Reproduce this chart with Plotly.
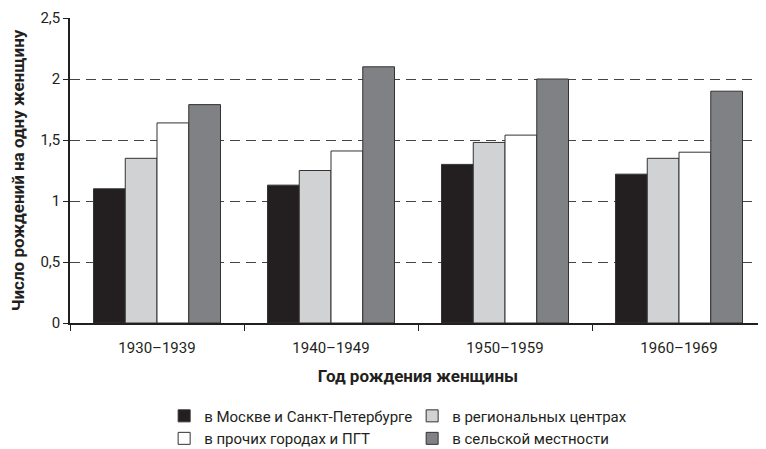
import plotly.graph_objects as go


COHORTS = ["1930–1939", "1940–1949", "1950–1959", "1960–1969"]

MOSCOW_SPB = [1.10, 1.13, 1.30, 1.22]
REGIONAL_CENTERS = [1.35, 1.25, 1.48, 1.35]
OTHER_TOWNS = [1.64, 1.41, 1.54, 1.40]
RURAL = [1.79, 2.10, 2.00, 1.90]

SERIES = [
    ("в Москве и Санкт-Петербурге", MOSCOW_SPB, "#231f20"),
    ("в региональных центрах", REGIONAL_CENTERS, "#d1d2d4"),
    ("в прочих городах и ПГТ", OTHER_TOWNS, "#ffffff"),
    ("в сельской местности", RURAL, "#808184"),
]

Y_TICKS = [0, 0.5, 1, 1.5, 2, 2.5]

FONT = "Roboto, Liberation Sans, sans-serif"


def build_figure() -> go.Figure:
    fig = go.Figure()

    for name, values, color in SERIES:
        fig.add_trace(
            go.Bar(
                x=COHORTS,
                y=values,
                name=name,
                marker=dict(color=color, line=dict(color="#333333", width=1)),
            )
        )

    # page body has an 8px default margin, so the figure is sized to fit
    fig.update_layout(
        width=758,
        height=441,
        margin=dict(l=62, r=0, t=10, b=126),
        plot_bgcolor="white",
        paper_bgcolor="white",
        separators=", ",
        font=dict(family=FONT, size=15, color="#231f20"),
        barmode="group",
        bargap=0.27,
        bargroupgap=0,
        showlegend=True,
        legend=dict(
            orientation="h",
            xref="container",
            yref="container",
            x=0.206,
            y=0.112,
            xanchor="left",
            yanchor="top",
            entrywidth=203,
            entrywidthmode="pixels",
            tracegroupgap=0,
            font=dict(size=15),
            itemwidth=30,
        ),
    )

    fig.update_xaxes(
        automargin=False,
        showline=True,
        linecolor="#231f20",
        linewidth=1.5,
        ticks="outside",
        tickson="boundaries",
        ticklen=6,
        tickcolor="#231f20",
        ticklabelstandoff=10,
        showgrid=False,
        tickfont=dict(size=15),
        title=dict(
            text="<b>Год рождения женщины</b>",
            font=dict(size=17),
            standoff=14,
        ),
    )

    fig.update_yaxes(
        automargin=False,
        range=[0, 2.5],
        tickvals=Y_TICKS,
        showline=True,
        linecolor="#231f20",
        linewidth=1.5,
        ticks="outside",
        ticklen=5,
        tickcolor="#231f20",
        showgrid=True,
        gridcolor="#444444",
        griddash="10px,6px",
        gridwidth=1,
        zeroline=False,
        tickfont=dict(size=15),
        title=dict(
            text="<b>Число рождений на одну женщину</b>",
            font=dict(size=17),
            standoff=20,
        ),
    )

    return fig


def main() -> None:
    fig = build_figure()
    fig.write_html("out.html")


if __name__ == "__main__":
    main()
